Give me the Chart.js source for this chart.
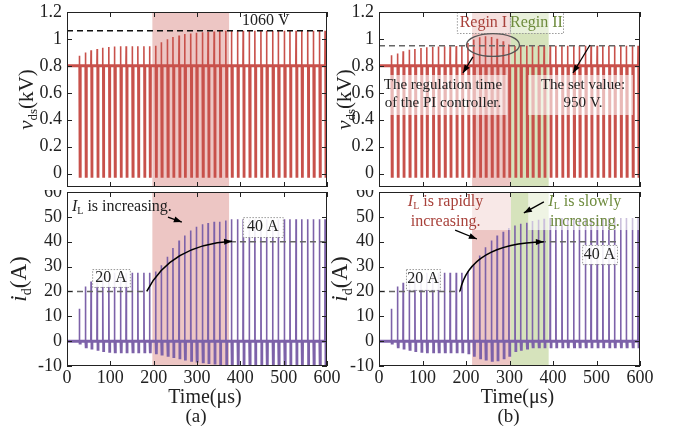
<!DOCTYPE html>
<html>
<head>
<meta charset="utf-8">
<script src="https://cdn.jsdelivr.net/npm/chart.js@4.4.1/dist/chart.umd.min.js"></script>
<style>
  body { margin: 0; background: #fff; }
  #fig { position: relative; width: 678px; height: 431px; overflow: hidden; background: #fff; }
  .panel { position: absolute; }
</style>
</head>
<body>
<div id="fig">
  <div class="panel" style="left:0;top:0"><canvas id="vdsA" width="340" height="190"></canvas></div>
  <div class="panel" style="left:0;top:190px"><canvas id="idA" width="340" height="241"></canvas></div>
  <div class="panel" style="left:325px;top:0"><canvas id="vdsB" width="353" height="190"></canvas></div>
  <div class="panel" style="left:325px;top:190px"><canvas id="idB" width="353" height="241"></canvas></div>
</div>
<script>
// axis ticks
const timeTicks = [0, 100, 200, 300, 400, 500, 600];
const vdsTicks = [0, 0.2, 0.4, 0.6, 0.8, 1, 1.2];
const idTicks = [-10, 0, 10, 20, 30, 40, 50, 60];

// switching instants (us), one per pulse
const pulseTimes = [28, 42, 55, 69, 82, 96, 109, 123, 136, 150, 163, 177, 190, 204, 217, 231, 244, 258, 271, 285, 298,
  312, 325, 339, 352, 366, 379, 393, 406, 420, 433, 447, 460, 474, 487, 501, 514, 528, 541, 555, 568, 582, 595];

// v_ds (kV): on-state level, spike peak of each pulse
const vdsBase = 0.8;
const vdsLow = -0.025;
const vdsPeakA = [0.875, 0.90, 0.915, 0.925, 0.935, 0.94, 0.943, 0.945, 0.945, 0.945, 0.945, 0.945, 0.945,
  0.95, 0.975, 0.997, 1.014, 1.026, 1.036, 1.041, 1.046, 1.05, 1.053, 1.056, 1.058, 1.06,
  1.06, 1.06, 1.06, 1.06, 1.06, 1.06, 1.06, 1.06, 1.06, 1.06, 1.06, 1.06, 1.06, 1.06, 1.06, 1.06, 1.06];
const vdsPeakB = [0.878, 0.892, 0.909, 0.919, 0.926, 0.933, 0.939, 0.941, 0.943, 0.946, 0.946, 0.948, 0.948,
  0.97, 0.995, 1.012, 1.019, 1.014, 1.002, 0.982, 0.958, 0.948,
  0.95, 0.95, 0.95, 0.95, 0.95, 0.95, 0.95, 0.95, 0.95, 0.95, 0.95, 0.95, 0.95, 0.95, 0.95, 0.95, 0.95, 0.95, 0.95, 0.95, 0.95];

// i_d (A): peak and negative swing of each pulse
const idBase = 0;
const idPeakA = [13, 22, 24, 25, 26, 27, 27.5, 27.5, 27.5, 27.5, 27.5, 27.5, 27.5,
  28, 30.5, 34, 37.5, 40.5, 42.5, 44.5, 46, 47, 47.5, 48, 48, 48.5,
  49, 49, 49, 49, 49, 49, 49, 49, 49, 49, 49, 49, 49, 49, 49, 49, 49];
const idLowA = [-1, -2.5, -3, -3.5, -4, -4.3, -4.5, -4.5, -4.5, -4.5, -4.5, -4.5, -4.5,
  -5, -5.5, -6, -6.5, -7, -7.5, -8, -8.3, -8.6, -8.9, -9.1, -9.3, -9.5,
  -11, -11, -11, -11, -11, -11, -11, -11, -11, -11, -11, -11, -11, -11, -11, -11, -11];
const idPeakB = [13, 22, 23.5, 25, 26.4, 27, 27.5, 27.5, 27.5, 27.5, 27.5, 27.5, 27.5,
  28, 31, 34.5, 37.8, 40.5, 42.5, 44, 45.5, 46.5, 47.2, 47.6, 48.3, 48.8, 49.2,
  49.5, 49.5, 49.5, 49.5, 49.5, 49.5, 49.5, 49.5, 49.5, 49.5, 49.5, 49.5, 49.5, 49.5, 49.5, 49.5];
const idLowB = [-1, -2.5, -3, -3.5, -4, -4.3, -4.5, -4.5, -4.5, -4.5, -4.5, -4.5, -4.5,
  -5, -6, -7, -7.5, -8, -7.8, -7, -6,
  -4, -3.5, -3,
  -2.5, -2.5, -2.5, -2.5, -2.5, -2.5, -2.5, -2.5, -2.5, -2.5, -2.5, -2.5, -2.5, -2.5, -2.5, -2.5, -2.5, -2.5, -2.5];

const FONT = '"Liberation Serif", "Times New Roman", serif';
Chart.defaults.font.family = FONT;
Chart.defaults.color = '#222';

const RED = '#C8514B';
const PURPLE = '#7D62A9';
const SHADE_RED = '#EDC6C4';
const SHADE_GREEN = '#D6E3BC';
const TXT_RED = '#A8413A';
const TXT_GREEN = '#6E8B3D';

function pulseTrain(times, peaks, lows, base) {
  const pts = [{x: 0, y: base}];
  times.forEach((t, i) => {
    const low = Array.isArray(lows) ? lows[i] : lows;
    pts.push({x: t, y: base}, {x: t + 0.5, y: peaks[i]}, {x: t + 1.2, y: low},
             {x: t + 3.6, y: low}, {x: t + 4, y: base});
  });
  pts.push({x: 600, y: base});
  return pts;
}

function richText(ctx, parts, x, y, size, color, align, rotate) {
  ctx.save();
  ctx.translate(x, y);
  if (rotate) ctx.rotate(-Math.PI / 2);
  ctx.fillStyle = color;
  ctx.textBaseline = 'middle';
  ctx.textAlign = 'left';
  const fontOf = p => (p.italic ? 'italic ' : '') + (p.sub ? Math.round(size * 0.62) : size) + 'px ' + FONT;
  let total = 0;
  parts.forEach(p => { ctx.font = fontOf(p); total += ctx.measureText(p.t).width; });
  let cx = align === 'left' ? 0 : -total / 2;
  parts.forEach(p => {
    ctx.font = fontOf(p);
    ctx.fillText(p.t, cx, p.sub ? size * 0.3 : 0);
    cx += ctx.measureText(p.t).width;
  });
  ctx.restore();
}

function arrowHead(ctx, x1, y1, x2, y2) {
  const a = Math.atan2(y2 - y1, x2 - x1), len = 8, w = 3;
  ctx.beginPath();
  ctx.moveTo(x2, y2);
  ctx.lineTo(x2 - len * Math.cos(a) + w * Math.sin(a), y2 - len * Math.sin(a) - w * Math.cos(a));
  ctx.lineTo(x2 - len * Math.cos(a) - w * Math.sin(a), y2 - len * Math.sin(a) + w * Math.cos(a));
  ctx.closePath();
  ctx.fill();
}

// no extra room for half labels at the axis ends
function noPad(s) {
  s.paddingTop = 0; s.paddingBottom = 0; s.paddingLeft = 0; s.paddingRight = 0;
}

const decorations = {};

const decor = {
  id: 'decor',
  beforeDatasetsDraw(chart) {
    const d = decorations[chart.canvas.id];
    const {ctx, chartArea: a, scales: {x}} = chart;
    ctx.save();
    (d.shades || []).forEach(s => {
      const x1 = x.getPixelForValue(s.from), x2 = x.getPixelForValue(s.to);
      ctx.fillStyle = s.color;
      ctx.fillRect(x1, a.top, x2 - x1, a.bottom - a.top);
    });
    ctx.restore();
  },
  afterDatasetsDraw(chart) {
    const d = decorations[chart.canvas.id];
    const {ctx, chartArea: a, scales: {x, y}} = chart;
    const px = v => x.getPixelForValue(v), py = v => y.getPixelForValue(v);
    ctx.save();
    ctx.beginPath();
    ctx.rect(a.left, a.top, a.right - a.left, a.bottom - a.top);
    ctx.clip();
    (d.overlays || []).forEach(o => {
      ctx.fillStyle = 'rgba(255,255,255,0.6)';
      ctx.fillRect(px(o.x1), py(o.y1), px(o.x2) - px(o.x1), py(o.y2) - py(o.y1));
    });
    (d.hlines || []).forEach(h => {
      ctx.strokeStyle = h.color;
      ctx.lineWidth = 1.5;
      ctx.setLineDash([6, 4]);
      ctx.beginPath();
      ctx.moveTo(px(h.from), py(h.y));
      ctx.lineTo(px(h.to), py(h.y));
      ctx.stroke();
    });
    ctx.setLineDash([]);
    (d.boxes || []).forEach(b => {
      const x1 = px(b.x1), y1 = py(b.y1), w = px(b.x2) - x1, h = py(b.y2) - y1;
      ctx.fillStyle = b.fill;
      ctx.fillRect(x1, y1, w, h);
      ctx.strokeStyle = '#999';
      ctx.lineWidth = 1;
      ctx.setLineDash([1.5, 1.5]);
      ctx.strokeRect(x1 + 0.5, y1 + 0.5, w, h);
      ctx.setLineDash([]);
    });
    (d.ellipses || []).forEach(e => {
      ctx.strokeStyle = '#555';
      ctx.lineWidth = 1.3;
      ctx.beginPath();
      ctx.ellipse(px(e.x), py(e.y), Math.abs(px(e.x + e.rx) - px(e.x)), Math.abs(py(e.y + e.ry) - py(e.y)), 0, 0, Math.PI * 2);
      ctx.stroke();
    });
    ctx.strokeStyle = '#000';
    ctx.fillStyle = '#000';
    ctx.lineWidth = 1.3;
    (d.arrows || []).forEach(r => {
      ctx.beginPath();
      ctx.moveTo(px(r.x1), py(r.y1));
      ctx.lineTo(px(r.x2), py(r.y2));
      ctx.stroke();
      arrowHead(ctx, px(r.x1), py(r.y1), px(r.x2), py(r.y2));
    });
    (d.curves || []).forEach(c => {
      ctx.lineWidth = 1.5;
      ctx.beginPath();
      ctx.moveTo(px(c.x1), py(c.y1));
      ctx.quadraticCurveTo(px(c.cx), py(c.cy), px(c.x2), py(c.y2));
      ctx.stroke();
      arrowHead(ctx, px(c.cx), py(c.cy), px(c.x2), py(c.y2));
    });
    (d.texts || []).forEach(t => {
      richText(ctx, t.parts, px(t.x), py(t.y), t.size, t.color || '#222', t.align);
    });
    ctx.restore();

    // frame and inward ticks
    ctx.save();
    ctx.strokeStyle = '#222';
    ctx.lineWidth = 1;
    ctx.strokeRect(a.left + 0.5, a.top + 0.5, a.right - a.left - 1, a.bottom - a.top - 1);
    ctx.beginPath();
    timeTicks.forEach(v => {
      const xx = Math.round(px(v)) + 0.5;
      ctx.moveTo(xx, a.bottom); ctx.lineTo(xx, a.bottom - 5);
      ctx.moveTo(xx, a.top); ctx.lineTo(xx, a.top + 5);
    });
    d.yTicks.forEach(v => {
      const yy = Math.round(py(v)) + 0.5;
      ctx.moveTo(a.left, yy); ctx.lineTo(a.left + 5, yy);
      ctx.moveTo(a.right, yy); ctx.lineTo(a.right - 5, yy);
    });
    ctx.stroke();
    ctx.restore();

    // axis titles and caption
    const cx = (a.left + a.right) / 2;
    richText(ctx, d.yTitle.parts, d.yTitle.x, (a.top + a.bottom) / 2, d.yTitle.size, '#222', 'center', true);
    if (d.caption) {
      richText(ctx, [{t: 'Time(μs)'}], cx + 8, a.bottom + 32, 20, '#222', 'center');
      richText(ctx, [{t: d.caption}], cx - 1, a.bottom + 51, 19, '#222', 'center');
    }
  }
};

function buildPanel(p) {
  decorations[p.id] = p.deco;
  return new Chart(document.getElementById(p.id), {
    type: 'line',
    data: {
      datasets: [
        {data: [{x: 0, y: p.base}, {x: 600, y: p.base}], borderColor: p.color, borderWidth: 3},
        {data: p.wave, borderColor: p.color, borderWidth: 1.6}
      ]
    },
    options: {
      responsive: false,
      animation: false,
      events: [],
      parsing: false,
      elements: {point: {radius: 0}, line: {tension: 0}},
      layout: {padding: {left: 0, top: p.area.t, right: p.w - p.area.r, bottom: p.showX ? 0 : p.h - p.area.b}},
      scales: {
        x: {
          type: 'linear', min: 0, max: 600,
          grid: {display: false, drawTicks: false}, border: {display: false},
          afterBuildTicks: s => { s.ticks = timeTicks.map(v => ({value: v})); },
          afterFit: s => { s.height = p.showX ? p.h - p.area.b : 0; noPad(s); },
          ticks: {display: p.showX, font: {size: 18}, padding: 1, maxRotation: 0, autoSkip: false, color: '#222',
                  callback: v => String(v)}
        },
        y: {
          type: 'linear', min: p.ymin, max: p.ymax,
          grid: {display: false, drawTicks: false}, border: {display: false},
          afterBuildTicks: s => { s.ticks = p.deco.yTicks.map(v => ({value: v})); },
          afterFit: s => { s.width = p.area.l; noPad(s); },
          ticks: {font: {size: 18}, padding: 5, autoSkip: false, color: '#222', callback: v => String(v)}
        }
      },
      plugins: {legend: {display: false}, tooltip: {enabled: false}}
    },
    plugins: [decor]
  });
}

const vTitle = [{t: 'v', italic: true}, {t: 'ds', sub: true}, {t: '(kV)'}];
const iTitle = [{t: 'i', italic: true}, {t: 'd', sub: true}, {t: '(A)'}];

buildPanel({
  id: 'vdsA', w: 340, h: 190, area: {l: 67, t: 12, r: 327, b: 187}, showX: false,
  ymin: -0.1, ymax: 1.2, base: vdsBase, color: RED,
  wave: pulseTrain(pulseTimes, vdsPeakA, vdsLow, vdsBase),
  deco: {
    yTicks: vdsTicks,
    yTitle: {parts: vTitle, x: 27, size: 21},
    shades: [{from: 197, to: 374, color: SHADE_RED}],
    hlines: [{y: 1.06, from: 0, to: 600, color: '#111'}],
    texts: [{x: 459, y: 1.135, size: 16, parts: [{t: '1060 V'}]}]
  }
});

buildPanel({
  id: 'idA', w: 340, h: 241, area: {l: 67, t: 2, r: 327, b: 176}, showX: true,
  ymin: -10, ymax: 60, base: idBase, color: PURPLE,
  wave: pulseTrain(pulseTimes, idPeakA, idLowA, idBase),
  deco: {
    yTicks: idTicks,
    yTitle: {parts: iTitle, x: 20, size: 23},
    caption: '(a)',
    shades: [{from: 197, to: 374, color: SHADE_RED}],
    hlines: [{y: 20, from: 0, to: 184, color: '#666'}, {y: 40, from: 376, to: 600, color: '#666'}],
    boxes: [{x1: 58, x2: 145, y1: 29, y2: 21.8, fill: 'rgba(255,255,255,0.9)'},
            {x1: 406, x2: 498, y1: 49.9, y2: 41.9, fill: 'rgba(255,255,255,0.9)'}],
    curves: [{x1: 184, y1: 20, cx: 238, cy: 38.7, x2: 381, y2: 40.2}],
    arrows: [{x1: 233, y1: 49.9, x2: 265, y2: 47.9}],
    texts: [
      {x: 11.5, y: 54, size: 16, align: 'left', parts: [{t: 'I', italic: true}, {t: 'L', sub: true}, {t: ' is increasing.'}]},
      {x: 101.5, y: 25.4, size: 16, parts: [{t: '20 A'}]},
      {x: 452, y: 45.9, size: 16, parts: [{t: '40 A'}]}
    ]
  }
});

buildPanel({
  id: 'vdsB', w: 353, h: 190, area: {l: 54, t: 12, r: 315, b: 187}, showX: false,
  ymin: -0.1, ymax: 1.2, base: vdsBase, color: RED,
  wave: pulseTrain(pulseTimes, vdsPeakB, vdsLow, vdsBase),
  deco: {
    yTicks: vdsTicks,
    yTitle: {parts: vTitle, x: 20, size: 21},
    shades: [{from: 214, to: 303, color: SHADE_RED}, {from: 303, to: 390, color: SHADE_GREEN}],
    overlays: [{x1: 9, x2: 294, y1: 0.732, y2: 0.435}, {x1: 343, x2: 584, y1: 0.732, y2: 0.435}],
    hlines: [{y: 0.95, from: 0, to: 600, color: '#666'}],
    boxes: [{x1: 179, x2: 301, y1: 1.2, y2: 1.044, fill: 'rgba(255,255,255,0.45)'},
            {x1: 301, x2: 423, y1: 1.2, y2: 1.044, fill: 'rgba(255,255,255,0.45)'}],
    ellipses: [{x: 262, y: 0.955, rx: 61, ry: 0.085}],
    arrows: [{x1: 216, y1: 0.866, x2: 193, y2: 0.747}, {x1: 485, y1: 0.955, x2: 446, y2: 0.747}],
    texts: [
      {x: 240, y: 1.122, size: 16, color: TXT_RED, parts: [{t: 'Regin I'}]},
      {x: 362, y: 1.122, size: 16, color: TXT_GREEN, parts: [{t: 'Regin II'}]},
      {x: 147, y: 0.658, size: 15, parts: [{t: 'The regulation time'}]},
      {x: 147, y: 0.524, size: 15, parts: [{t: 'of the PI controller.'}]},
      {x: 469, y: 0.658, size: 15, parts: [{t: 'The set value:'}]},
      {x: 469, y: 0.524, size: 15, parts: [{t: '950 V.'}]}
    ]
  }
});

buildPanel({
  id: 'idB', w: 353, h: 241, area: {l: 54, t: 2, r: 315, b: 176}, showX: true,
  ymin: -10, ymax: 60, base: idBase, color: PURPLE,
  wave: pulseTrain(pulseTimes, idPeakB, idLowB, idBase),
  deco: {
    yTicks: idTicks,
    yTitle: {parts: iTitle, x: 16, size: 23},
    caption: '(b)',
    shades: [{from: 214, to: 303, color: SHADE_RED}, {from: 303, to: 390, color: SHADE_GREEN}],
    overlays: [{x1: 55, x2: 303, y1: 60, y2: 44.7}, {x1: 343, x2: 600, y1: 60, y2: 44.7}],
    hlines: [{y: 20, from: 0, to: 186, color: '#666'}, {y: 40, from: 370, to: 545, color: '#666'}],
    boxes: [{x1: 62, x2: 140, y1: 29, y2: 20.6, fill: 'rgba(255,255,255,0.9)'},
            {x1: 467, x2: 547, y1: 38.7, y2: 31, fill: 'rgba(255,255,255,0.9)'}],
    curves: [{x1: 186, y1: 20, cx: 209, cy: 39.3, x2: 379, y2: 40}],
    arrows: [{x1: 175, y1: 44.7, x2: 225, y2: 41.1}, {x1: 379, y1: 56, x2: 333, y2: 51.6}],
    texts: [
      {x: 153, y: 56, size: 16, color: TXT_RED, parts: [{t: 'I', italic: true}, {t: 'L', sub: true}, {t: ' is rapidly'}]},
      {x: 153, y: 47.9, size: 16, color: TXT_RED, parts: [{t: 'increasing.'}]},
      {x: 473, y: 56, size: 16, color: TXT_GREEN, parts: [{t: 'I', italic: true}, {t: 'L', sub: true}, {t: ' is slowly'}]},
      {x: 473, y: 47.9, size: 16, color: TXT_GREEN, parts: [{t: 'increasing.'}]},
      {x: 101, y: 25, size: 16, parts: [{t: '20 A'}]},
      {x: 507, y: 34.9, size: 16, parts: [{t: '40 A'}]}
    ]
  }
});
</script>
</body>
</html>
